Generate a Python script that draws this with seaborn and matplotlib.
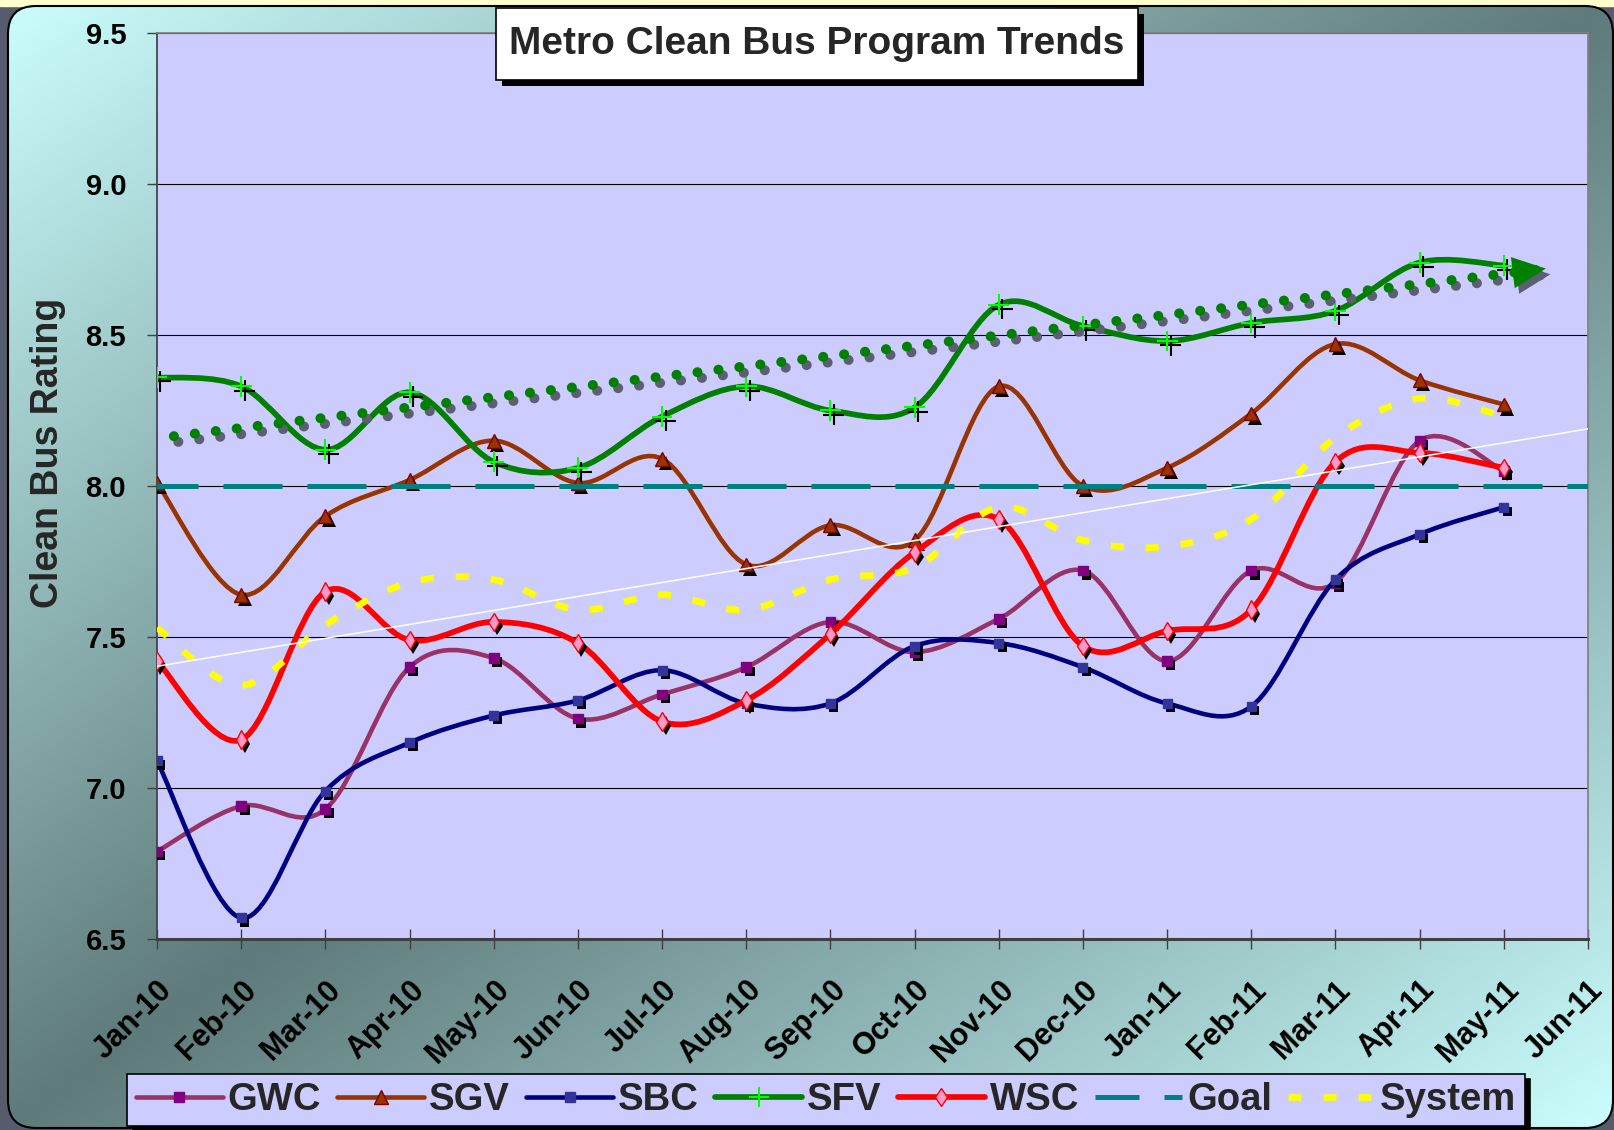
import matplotlib.pyplot as plt
import matplotlib.patheffects as pe
import numpy as np
import seaborn as sns
from matplotlib.lines import Line2D
from matplotlib.patches import FancyBboxPatch, PathPatch, Rectangle
from matplotlib.path import Path
from matplotlib.transforms import ScaledTranslation

# Data, Jan-10 .. May-11
month_labels = ['Jan-10', 'Feb-10', 'Mar-10', 'Apr-10', 'May-10', 'Jun-10',
                'Jul-10', 'Aug-10', 'Sep-10', 'Oct-10', 'Nov-10', 'Dec-10',
                'Jan-11', 'Feb-11', 'Mar-11', 'Apr-11', 'May-11', 'Jun-11']
gwc = [6.79, 6.94, 6.93, 7.40, 7.43, 7.23, 7.31, 7.40, 7.55, 7.45, 7.56, 7.72,
       7.42, 7.72, 7.68, 8.15, 8.05]
sgv = [8.01, 7.64, 7.90, 8.02, 8.15, 8.01, 8.09, 7.74, 7.87, 7.82, 8.33, 8.00,
       8.06, 8.24, 8.47, 8.35, 8.27]
sbc = [7.09, 6.57, 6.99, 7.15, 7.24, 7.29, 7.39, 7.28, 7.28, 7.47, 7.48, 7.40,
       7.28, 7.27, 7.69, 7.84, 7.93]
sfv = [8.36, 8.33, 8.12, 8.31, 8.08, 8.06, 8.23, 8.33, 8.25, 8.26, 8.60, 8.53,
       8.48, 8.54, 8.58, 8.74, 8.73]
wsc = [7.42, 7.16, 7.65, 7.49, 7.55, 7.48, 7.22, 7.29, 7.51, 7.78, 7.89, 7.47,
       7.52, 7.59, 8.08, 8.11, 8.06]
system = [7.53, 7.34, 7.54, 7.68, 7.69, 7.59, 7.64, 7.59, 7.69, 7.73, 7.93, 7.82,
          7.80, 7.89, 8.16, 8.29, 8.23]
goal = 8.0

# hand-drawn SFV arrow (start / tip, in month index and rating)
arrow_x = [0.2, 16.5]
arrow_y = [8.165, 8.72]

sns.set_theme(style='white')
plt.rcParams['font.family'] = ['Liberation Sans', 'DejaVu Sans']
plt.rcParams['font.weight'] = 'bold'

W, H = 1615, 1130
fig = plt.figure(figsize=(W / 100, H / 100), dpi=100)
fig.patch.set_facecolor('#565c6c')

# background: rounded chart area with diagonal gradient
bg = fig.add_axes([0, 0, 1, 1], zorder=-10)
yy, xx = np.mgrid[0:H:2, 0:W:2]
u = np.abs(xx / W + yy / H - 1)
dark = np.array([95, 122, 122]) / 255
light = np.array([204, 255, 255]) / 255
img = dark + (light - dark) * u[..., None]
im = bg.imshow(img, extent=(0, W, H, 0), aspect='auto', zorder=1)
frame = FancyBboxPatch((8, 6), W - 10, H - 8,
                       boxstyle='round,pad=0,rounding_size=28',
                       fc='none', ec='black', lw=1.5, zorder=2)
bg.add_patch(frame)
im.set_clip_path(frame)
bg.add_patch(Rectangle((0, 0), W, 6, color='#ffffcc', zorder=0))
bg.set_xlim(0, W)
bg.set_ylim(H, 0)
bg.axis('off')

# overlay for the title box (drawn above the plot area)
top = fig.add_axes([0, 0, 1, 1], zorder=10)
top.patch.set_alpha(0)
top.add_patch(Rectangle((502, 14), 642, 72, fc='black', ec='none', zorder=3))
top.add_patch(Rectangle((496, 8), 642, 72, fc='white', ec='black', lw=1.2, zorder=4))
top.text(817, 44, 'Metro Clean Bus Program Trends', ha='center', va='center',
         fontsize=28, weight='bold', zorder=5)
top.set_xlim(0, W)
top.set_ylim(H, 0)
top.axis('off')

# plot area
ax = fig.add_axes([157 / W, 1 - 939 / H, (1588 - 157) / W, (939 - 33) / H])
ax.set_facecolor('#ccccff')
x = np.arange(len(gwc))


def smooth_path(xs, ys):
    # Excel-like smoothed line as cubic Bezier segments
    pts = np.column_stack([xs, ys]).astype(float)
    ext = np.vstack([pts[0], pts, pts[-1]])
    verts = [pts[0]]
    codes = [Path.MOVETO]
    for i in range(len(pts) - 1):
        p0, p1, p2, p3 = ext[i], ext[i + 1], ext[i + 2], ext[i + 3]
        verts += [p1 + (p2 - p0) / 6, p2 - (p3 - p1) / 6, p2]
        codes += [Path.CURVE4] * 3
    return Path(verts, codes)


fill_shadow = [pe.SimplePatchShadow(offset=(2.5, -3), shadow_rgbFace='black', alpha=1),
               pe.Normal()]
line_shadow = [pe.SimpleLineShadow(offset=(2.5, -3), shadow_color='black', alpha=1),
               pe.Normal()]

series = [
  dict(name='GWC', y=gwc, color='#993366', lw=3.3, marker='s', mfc='#800080',
       mec='#800080', ms=7, mew=1),
  dict(name='SGV', y=sgv, color='#993300', lw=3.3, marker='^', mfc='#993300',
       mec='#800000', ms=10, mew=1),
  dict(name='SBC', y=sbc, color='#000080', lw=3.3, marker='s', mfc='#333399',
       mec='#333399', ms=6.5, mew=1),
  dict(name='SFV', y=sfv, color='#008000', lw=4.1, marker='+', mfc='none',
       mec='#00ff00', ms=15, mew=1.5),
  dict(name='WSC', y=wsc, color='#ff0000', lw=4.1, marker='d', mfc='#ff99cc',
       mec='#ff0000', ms=9.5, mew=1),
]

handles = []
for i, s in enumerate(series):
  patch = PathPatch(smooth_path(x, s['y']), fill=False, edgecolor=s['color'],
                    lw=s['lw'], capstyle='round', joinstyle='round', zorder=3 + i)
  ax.add_patch(patch)
  sns.lineplot(x=x, y=s['y'], ax=ax, linestyle='none', marker=s['marker'],
               markersize=s['ms'], markerfacecolor=s['mfc'],
               markeredgecolor=s['mec'], markeredgewidth=s['mew'],
               path_effects=line_shadow if s['marker'] == '+' else fill_shadow,
               zorder=3.5 + i)
  handles.append(Line2D([], [], color=s['color'], lw=s['lw'], marker=s['marker'],
                        markersize=s['ms'], markerfacecolor=s['mfc'],
                        markeredgecolor=s['mec'], markeredgewidth=s['mew'],
                        solid_capstyle='round'))

# goal line
ax.axhline(goal, color='#008080', lw=3.6, linestyle=(3.6, (11.8, 5)), zorder=9)
handles.append(Line2D([], [], color='#008080', lw=3.6, linestyle=(0, (8.8, 5))))

# system line
sys_patch = PathPatch(smooth_path(x, system), fill=False, edgecolor='#ffff00',
                      lw=4.8, linestyle=(0, (1.95, 3.3)), capstyle='butt', zorder=10)
ax.add_patch(sys_patch)
handles.append(Line2D([], [], color='#ffff00', lw=4.8, linestyle=(0, (1.95, 3.3))))

# linear trend of system
coef = np.polyfit(x, system, 1)
xt = np.array([0, len(month_labels) - 1])
ax.plot(xt, np.polyval(coef, xt), color='white', lw=1.1, zorder=11)

# dotted arrow over SFV
gray_line = [pe.SimpleLineShadow(offset=(3.2, -4.1), shadow_color='#5c5e72', alpha=1),
             pe.Normal()]
ax.plot(arrow_x, arrow_y, color='#008000', lw=7.2, linestyle=(0, (0.01, 2.1)),
        dash_capstyle='round', path_effects=gray_line, zorder=12)
slope = (arrow_y[1] - arrow_y[0]) / (arrow_x[1] - arrow_x[0])
ax.annotate('', xy=(arrow_x[1], arrow_y[1]),
            xytext=(arrow_x[1] - 0.4, arrow_y[1] - 0.4 * slope),
            arrowprops=dict(arrowstyle='-|>,head_length=1.6,head_width=0.75',
                            mutation_scale=15, color='#008000', lw=0,
                            shrinkA=0, shrinkB=0,
                            path_effects=[pe.SimplePatchShadow(offset=(3.2, -4.1),
                                                               shadow_rgbFace='#5c5e72',
                                                               alpha=1),
                                          pe.Normal()]),
            zorder=13)

# axes styling
ax.set_xlim(0, len(month_labels) - 1)
ax.set_ylim(6.5, 9.5)
ax.set_yticks(np.arange(6.5, 9.51, 0.5))
ax.set_yticklabels(['%.1f' % v for v in np.arange(6.5, 9.51, 0.5)],
                   fontsize=21, weight='bold')
ax.set_xticks(np.arange(len(month_labels)))
ax.set_xticklabels(month_labels, rotation=45, ha='right', rotation_mode='anchor',
                   fontsize=22, weight='bold')
for lab in ax.get_xticklabels():
  lab.set_transform(lab.get_transform() + ScaledTranslation(-7 / 72, 0, fig.dpi_scale_trans))
ax.tick_params(axis='y', direction='out', length=7.2, width=1, color='#404040',
               pad=15, left=True, labelcolor='black')
ax.tick_params(axis='x', direction='inout', length=13.7, width=1, color='#404040',
               pad=19, bottom=True, labelcolor='black')
ax.yaxis.grid(True, color='black', lw=0.8)
ax.xaxis.grid(False)
ax.set_axisbelow(True)
ax.spines['top'].set_color('#808080')
ax.spines['right'].set_color('#808080')
ax.spines['left'].set_color('#404040')
ax.spines['bottom'].set_color('#404040')
ax.spines['bottom'].set_linewidth(2.2)
ax.set_xlabel('')
ax.set_ylabel('')

fig.text(48 / W, 1 - 453 / H, 'Clean Bus Rating', rotation=90, ha='center',
         va='center', fontsize=27, weight='bold')

names = [s['name'] for s in series] + ['Goal', 'System']
leg = fig.legend(handles, names, loc='center', bbox_to_anchor=(826 / W, 1 - 1100 / H),
                 ncol=7, prop={'weight': 'bold', 'size': 27.5}, handlelength=2.28,
                 handletextpad=0.13, columnspacing=0.42, borderpad=0.22,
                 frameon=True, fancybox=False, facecolor='#ccccff',
                 edgecolor='black', framealpha=1,
                 shadow={'ox': 4, 'oy': -4, 'color': 'black', 'alpha': 1})
leg.get_frame().set_linewidth(1.2)

fig.savefig('out.png', dpi=100, facecolor=fig.get_facecolor())
